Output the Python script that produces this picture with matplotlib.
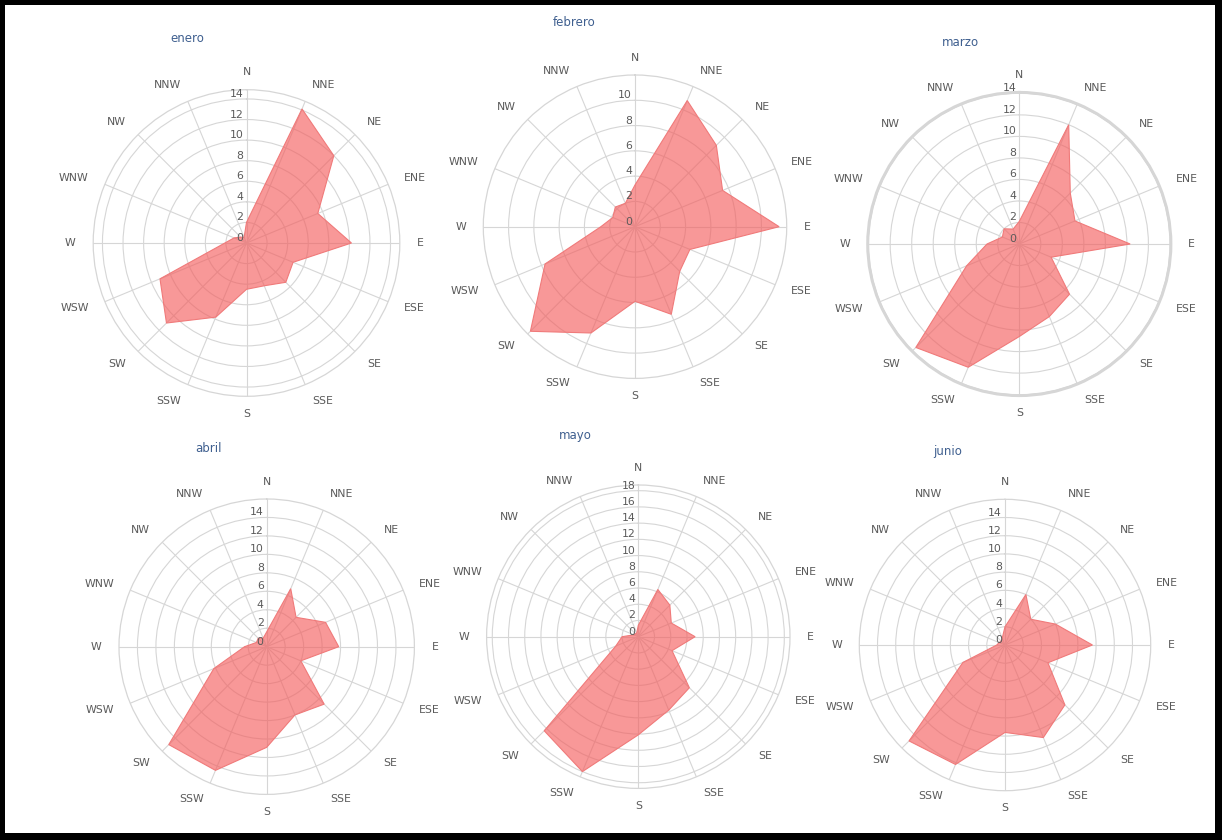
import numpy as np
import matplotlib
matplotlib.use("Agg")
import matplotlib.pyplot as plt
from matplotlib.patches import Rectangle

W, H, DPI = 1222, 840, 100

directions = ["N", "NNE", "NE", "ENE", "E", "ESE", "SE", "SSE",
              "S", "SSW", "SW", "WSW", "W", "WNW", "NW", "NNW"]
months = ["enero", "febrero", "marzo", "abril", "mayo", "junio"]

# frequency (%) per direction, N clockwise
enero   = [2.0, 14.1, 12.0, 7.5, 10.2, 4.9, 5.4, 4.5, 4.5, 7.8, 11.0, 9.1, 2.1, 1.3, 0.8, 0.6]
febrero = [3.3, 10.8, 9.1, 7.5, 11.4, 4.7, 5.0, 7.5, 5.9, 9.1, 11.7, 7.7, 2.7, 1.9, 2.2, 2.0]
marzo   = [2.1, 12.0, 6.7, 5.6, 10.3, 3.2, 6.6, 7.3, 8.6, 12.4, 13.6, 5.3, 3.0, 1.7, 2.0, 1.5]
abril   = [1.6, 6.8, 4.5, 6.9, 7.8, 4.0, 8.8, 8.0, 10.9, 14.5, 15.0, 6.2, 2.4, 1.2, 1.3, 1.0]
mayo    = [1.4, 6.3, 5.5, 4.4, 7.0, 4.5, 8.9, 9.8, 12.1, 18.0, 16.4, 3.0, 2.0, 0.6, 0.5, 0.5]
junio   = [2.0, 6.0, 4.0, 6.0, 9.6, 5.1, 9.3, 11.0, 9.6, 14.2, 14.9, 5.0, 0.9, 0.7, 0.6, 0.8]
series = [enero, febrero, marzo, abril, mayo, junio]

# radial axis extent and highest labelled tick of each rose
radial_max = [14.9, 12.0, 14.1, 16.0, 18.7, 16.0]
last_label = [14, 10, 14, 14, 18, 14]

# pixel layout: centre x, centre y, pane radius, title x, title y
layout = [
    (246.5, 243.0, 153.3, 187, 38),
    (635.0, 226.7, 151.7, 574, 23),
    (1019.3, 244.0, 151.7, 960, 42),
    (266.7, 646.7, 147.7, 208, 448),
    (638.3, 636.7, 151.7, 575, 435),
    (1005.0, 645.0, 145.7, 948, 451),
]

GRID = "#d6d6d6"
TEXT = "#5a5a5a"
TITLE = "#3f5f8f"
FILL = (0.957, 0.36, 0.36, 0.63)
EDGE = "#f07a7a"
FONT = "DejaVu Sans"

fig = plt.figure(figsize=(W / DPI, H / DPI), dpi=DPI)
fig.patch.set_facecolor("black")
fig.patches.append(Rectangle((5 / W, 7 / H), (1215 - 5) / W, (835 - 7) / H,
                             transform=fig.transFigure, facecolor="white",
                             edgecolor="none", zorder=-10))

theta = np.deg2rad(np.arange(len(directions)) * 22.5)

for i, (name, vals) in enumerate(zip(months, series)):
    cx, cy, rad, tx, ty = layout[i]
    rmax = radial_max[i]
    ax = fig.add_axes([(cx - rad) / W, 1 - (cy + rad) / H, 2 * rad / W, 2 * rad / H],
                      projection="polar")
    ax.set_zorder(1)
    ax.set_theta_zero_location("N")
    ax.set_theta_direction(-1)
    ax.set_ylim(0, rmax)
    ax.set_facecolor("white")
    ax.set_xticks(theta)
    ax.set_xticklabels([])
    ticks = np.arange(2, last_label[i] + 1, 2)
    ax.set_yticks(ticks)
    ax.set_yticklabels([])
    ax.tick_params(length=0)
    ax.grid(True, color=GRID, linewidth=0.8)
    ax.set_axisbelow(True)
    ax.spines["polar"].set_color(GRID)
    ax.spines["polar"].set_linewidth(2.0 if name == "marzo" else 0.9)

    t = np.append(theta, theta[0])
    v = np.append(vals, vals[0])
    ax.fill(t, v, facecolor=FILL, edgecolor=EDGE, linewidth=0.8, zorder=3)

    # radial tick labels along the north spoke
    for r in np.arange(0, last_label[i] + 1, 2):
        ax.annotate(str(int(r)), xy=(0, r), xytext=(-2.2, 3.6), textcoords="offset points",
                    ha="right", va="center", fontsize=7.8, color=TEXT,
                    family=FONT, zorder=5, annotation_clip=False)

    # compass labels outside the pane
    off = 12.5
    for th, lab in zip(theta, directions):
        s, c = np.sin(th), np.cos(th)
        ha = "left" if s > 0.1 else ("right" if s < -0.1 else "center")
        ax.annotate(lab, xy=(th, rmax), xytext=(off * s, off * c),
                    textcoords="offset points", ha=ha, va="center",
                    fontsize=7.8, color=TEXT, family=FONT, annotation_clip=False)

    fig.text(tx / W, 1 - ty / H, name, ha="center", va="center",
             fontsize=8.5, color=TITLE, family=FONT)

fig.savefig("out.png", dpi=DPI, facecolor=fig.get_facecolor())
